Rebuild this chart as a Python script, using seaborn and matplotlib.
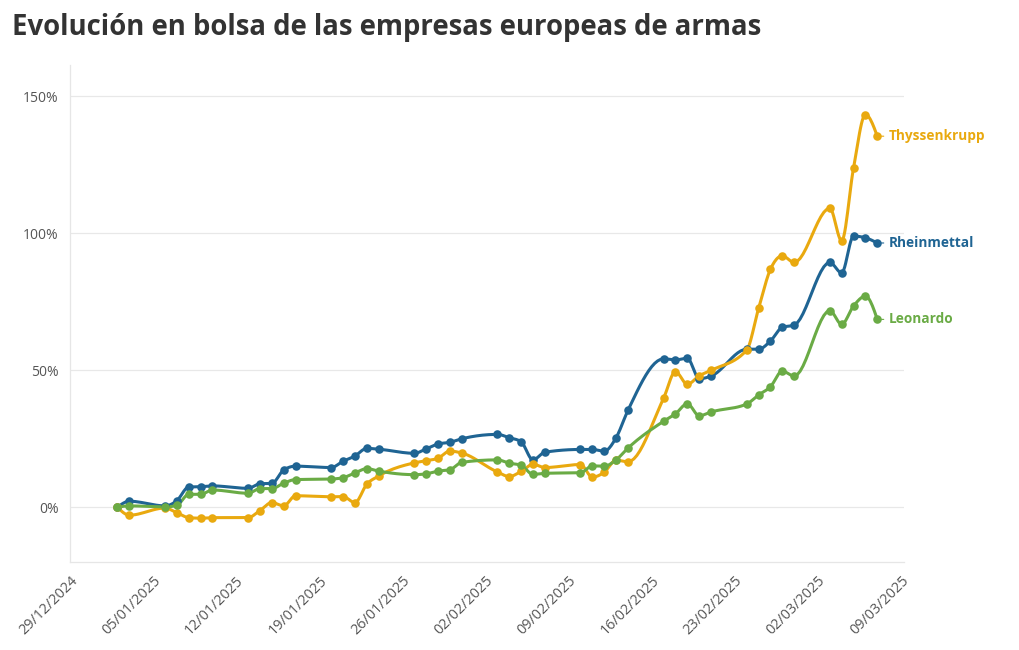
import numpy as np
import pandas as pd
import matplotlib
matplotlib.use("Agg")
import matplotlib.pyplot as plt
import matplotlib.dates as mdates
import seaborn as sns

# Datos (variación % desde el 02/01/2025)
fechas = [
    "2025-01-02", "2025-01-03", "2025-01-06", "2025-01-07", "2025-01-08", "2025-01-09", "2025-01-10",
    "2025-01-13", "2025-01-14", "2025-01-15", "2025-01-16", "2025-01-17",
    "2025-01-20", "2025-01-21", "2025-01-22", "2025-01-23", "2025-01-24",
    "2025-01-27", "2025-01-28", "2025-01-29", "2025-01-30", "2025-01-31",
    "2025-02-03", "2025-02-04", "2025-02-05", "2025-02-06", "2025-02-07",
    "2025-02-10", "2025-02-11", "2025-02-12", "2025-02-13", "2025-02-14",
    "2025-02-17", "2025-02-18", "2025-02-19", "2025-02-20", "2025-02-21",
    "2025-02-24", "2025-02-25", "2025-02-26", "2025-02-27", "2025-02-28",
    "2025-03-03", "2025-03-04", "2025-03-05", "2025-03-06", "2025-03-07",
]
rheinmetall = [
    0, 2.2, 0.5, 2.4, 7.4, 7.5, 7.8,
    6.9, 8.6, 8.7, 13.6, 15.0,
    14.5, 16.8, 18.7, 21.5, 21.2,
    19.7, 21.3, 23.1, 23.7, 25.0,
    26.6, 25.4, 23.9, 17.3, 20.1,
    21.1, 21.1, 20.5, 25.4, 35.4,
    54.2, 53.8, 54.4, 46.9, 47.9,
    57.7, 57.7, 60.7, 65.7, 66.5,
    89.4, 85.6, 99.0, 98.4, 96.5,
]
thyssenkrupp = [
    0, -2.9, -0.3, -2.0, -3.8, -4.0, -3.8,
    -3.8, -1.2, 1.7, 0.5, 4.2,
    3.8, 3.9, 1.7, 8.4, 11.4,
    16.2, 17.0, 17.9, 20.5, 19.8,
    12.9, 11.2, 13.1, 15.7, 14.5,
    15.6, 11.0, 12.8, 17.2, 16.6,
    39.8, 49.5, 44.9, 48.0, 50.0,
    57.4, 72.6, 86.9, 91.8, 89.4,
    109.2, 97.3, 123.9, 143.4, 135.5,
]
leonardo = [
    0, 0.5, 0.1, 0.7, 4.7, 4.7, 6.3,
    5.1, 6.8, 6.8, 8.8, 10.1,
    10.3, 10.8, 12.5, 14.1, 13.2,
    11.9, 12.2, 13.2, 13.7, 16.4,
    17.3, 16.1, 15.3, 12.0, 12.4,
    12.6, 15.1, 15.0, 17.3, 21.6,
    31.4, 34.1, 37.8, 33.4, 34.8,
    37.7, 41.0, 44.0, 49.7, 47.9,
    71.8, 66.8, 73.5, 77.1, 68.6,
]

series = {"Rheinmettal": rheinmetall, "Thyssenkrupp": thyssenkrupp, "Leonardo": leonardo}
colores = {"Rheinmettal": "#1f6493", "Thyssenkrupp": "#e9a90f", "Leonardo": "#6aab45"}


def curva_monotona(x, y, n=12):
    """Curva monótona tipo d3.curveMonotoneX entre los puntos"""
    x = np.asarray(x, float)
    y = np.asarray(y, float)
    h = np.diff(x)
    s = np.diff(y) / h
    t = np.zeros_like(y)
    for i in range(1, len(y) - 1):
        p = (s[i - 1] * h[i] + s[i] * h[i - 1]) / (h[i - 1] + h[i])
        t[i] = (np.sign(s[i - 1]) + np.sign(s[i])) * min(abs(s[i - 1]), abs(s[i]), 0.5 * abs(p))
    t[0] = (3 * s[0] - t[1]) / 2
    t[-1] = (3 * s[-1] - t[-2]) / 2
    xs, ys = [], []
    for i in range(len(h)):
        u = np.linspace(0, 1, n, endpoint=False)
        h00 = 2 * u**3 - 3 * u**2 + 1
        h10 = u**3 - 2 * u**2 + u
        h01 = -2 * u**3 + 3 * u**2
        h11 = u**3 - u**2
        xs.append(x[i] + u * h[i])
        ys.append(h00 * y[i] + h10 * h[i] * t[i] + h01 * y[i + 1] + h11 * h[i] * t[i + 1])
    xs.append([x[-1]])
    ys.append([y[-1]])
    return np.concatenate(xs), np.concatenate(ys)


sns.set_style("white")
plt.rcParams["font.family"] = ["Open Sans", "DejaVu Sans"]

df = pd.DataFrame({"fecha": pd.to_datetime(fechas)})
for nombre, valores in series.items():
    df[nombre] = valores
largo = df.melt(id_vars="fecha", var_name="empresa", value_name="variacion")

fig = plt.figure(figsize=(10.2, 6.5), dpi=100)
ax = fig.add_axes([70 / 1020, 1 - 562 / 650, (904 - 70) / 1020, (562 - 65) / 650])

xnum = mdates.date2num(df["fecha"])
for nombre in ["Rheinmettal", "Thyssenkrupp", "Leonardo"]:
    cx, cy = curva_monotona(xnum, df[nombre])
    ax.plot(mdates.num2date(cx), cy, color=colores[nombre], lw=2.2, solid_capstyle="round", zorder=3)
    sns.scatterplot(data=largo[largo["empresa"] == nombre], x="fecha", y="variacion",
                    color=colores[nombre], s=38, linewidth=0, ax=ax, zorder=4, legend=False)
    # Etiqueta al final de la línea
    ax.annotate(nombre, xy=(df["fecha"].iloc[-1], df[nombre].iloc[-1]), xytext=(8, 0),
                textcoords="offset points", va="center", ha="left", fontsize=9.8,
                fontweight="bold", color=colores[nombre],
                arrowprops=dict(arrowstyle="-", color=colores[nombre], lw=0.8, shrinkA=1, shrinkB=3))

ax.set_xlim(pd.Timestamp("2024-12-29"), pd.Timestamp("2025-03-09 06:00"))
ax.set_ylim(-20, 161.5)
ax.set_yticks([0, 50, 100, 150])
ax.set_yticklabels(["0%", "50%", "100%", "150%"])
ax.set_xticks(pd.date_range("2024-12-29", "2025-03-09", freq="7D"))
ax.xaxis.set_major_formatter(mdates.DateFormatter("%d/%m/%Y"))
ax.set_xlabel("")
ax.set_ylabel("")

ax.grid(axis="y", color="#e8e8e8", lw=0.9)
ax.set_axisbelow(True)
for lado in ["top", "right"]:
    ax.spines[lado].set_visible(False)
for lado in ["left", "bottom"]:
    ax.spines[lado].set_color("#e6e6e6")
    ax.spines[lado].set_linewidth(0.9)

ax.tick_params(axis="y", length=0, pad=8, labelsize=10, labelcolor="#555555")
ax.tick_params(axis="x", length=4, color="#e0e0e0", pad=4, labelsize=10.4, labelcolor="#555555")
for lbl in ax.get_xticklabels():
    lbl.set_rotation(45)
    lbl.set_ha("right")
    lbl.set_rotation_mode("anchor")

fig.text(12 / 1020, 1 - 28 / 650, "Evolución en bolsa de las empresas europeas de armas",
         fontsize=19.8, fontweight="bold", color="#333333", va="center", ha="left")

fig.savefig("out.png", dpi=100)
plt.close()
